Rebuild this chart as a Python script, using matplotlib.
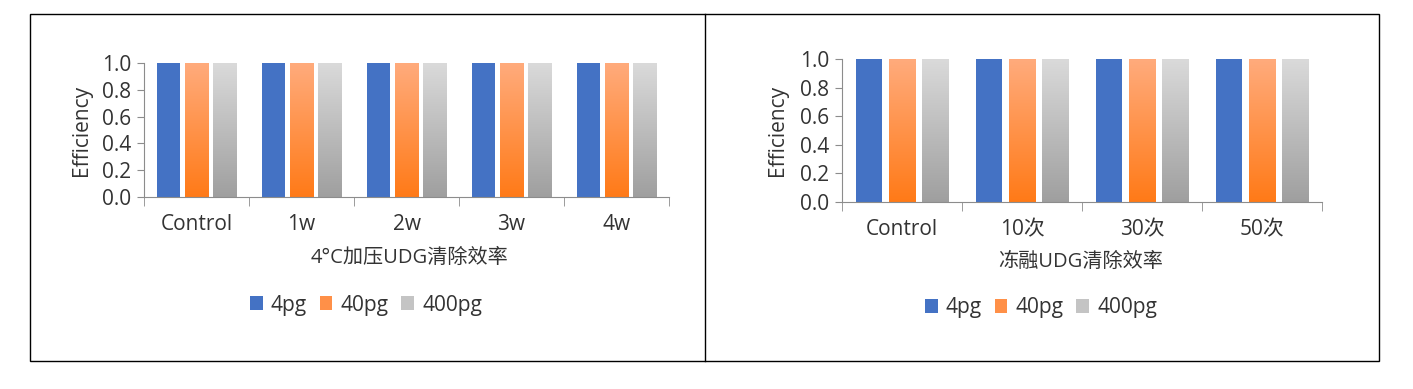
import matplotlib.pyplot as plt
import numpy as np
from matplotlib.colors import LinearSegmentedColormap
from matplotlib.patches import Rectangle
from matplotlib.lines import Line2D

plt.rcParams['font.family'] = ['Open Sans', 'Noto Sans CJK SC', 'DejaVu Sans']
plt.rcParams['font.size'] = 15

# 数据
series = ['4pg', '40pg', '400pg']

left_cats = ['Control', '1w', '2w', '3w', '4w']
left_4pg = [1.0, 1.0, 1.0, 1.0, 1.0]
left_40pg = [1.0, 1.0, 1.0, 1.0, 1.0]
left_400pg = [1.0, 1.0, 1.0, 1.0, 1.0]
left_title = '4°C加压UDG清除效率'

right_cats = ['Control', '10次', '30次', '50次']
right_4pg = [1.0, 1.0, 1.0, 1.0]
right_40pg = [1.0, 1.0, 1.0, 1.0]
right_400pg = [1.0, 1.0, 1.0, 1.0]
right_title = '冻融UDG清除效率'

# 颜色 (底部 -> 顶部)
blue = '#4472C4'
orange_cmap = LinearSegmentedColormap.from_list('org', ['#FF7A17', '#FFAB7C'])
gray_cmap = LinearSegmentedColormap.from_list('gry', ['#9F9F9F', '#DADADA'])
axis_color = '#8C8C8C'
text_color = '#333333'

W, H = 1413, 389
fig = plt.figure(figsize=(W / 100, H / 100), dpi=100)


def gradient_bars(ax, bars, cmap):
    grad = np.linspace(0, 1, 256).reshape(-1, 1)
    for b in bars:
        x, y = b.get_x(), b.get_y()
        w, h = b.get_width(), b.get_height()
        b.set_facecolor('none')
        ax.imshow(grad, extent=[x, x + w, y, y + h], origin='lower',
                  aspect='auto', cmap=cmap, zorder=2)


def draw_panel(rect, cats, v1, v2, v3, width, step, title, title_xy,
               ylab_x, leg_xy):
    ax = fig.add_axes(rect)
    x = np.arange(len(cats))
    ax.bar(x - step, v1, width, color=blue, zorder=2)
    b2 = ax.bar(x, v2, width, color='#FF9048', zorder=2)
    b3 = ax.bar(x + step, v3, width, color='#C8C8C8', zorder=2)
    gradient_bars(ax, b2, orange_cmap)
    gradient_bars(ax, b3, gray_cmap)

    ax.set_xlim(-0.5, len(cats) - 0.5)
    ax.set_ylim(0, 1.0)
    ax.set_yticks(np.arange(0, 1.01, 0.2))
    ax.set_yticklabels(['%.1f' % t for t in np.arange(0, 1.01, 0.2)])
    ax.set_xticks(x)
    ax.set_xticklabels(cats)
    ax.set_xticks(np.arange(len(cats) + 1) - 0.5, minor=True)
    ax.tick_params(axis='x', which='major', length=0, pad=12.5,
                   labelcolor=text_color)
    ax.tick_params(axis='x', which='minor', length=6.5, color=axis_color)
    ax.tick_params(axis='y', length=5, pad=4, color=axis_color,
                   labelcolor=text_color)

    for s in ['top', 'right']:
        ax.spines[s].set_visible(False)
    for s in ['left', 'bottom']:
        ax.spines[s].set_color(axis_color)

    ax.set_ylabel('Efficiency', color=text_color)
    ax.yaxis.set_label_coords(ylab_x, 0.5)
    fig.text(title_xy[0], title_xy[1], title, ha='center', va='center',
             color=text_color, fontsize=14.5)

    handles = [Rectangle((0, 0), 1, 1, fc=blue),
               Rectangle((0, 0), 1, 1, fc='#FF9048'),
               Rectangle((0, 0), 1, 1, fc='#C4C4C4')]
    ax.legend(handles, series, loc='center', bbox_to_anchor=leg_xy,
              bbox_transform=fig.transFigure, ncol=3, frameon=False,
              handlelength=0.62, handleheight=0.62, handletextpad=0.4,
              columnspacing=0.6, labelcolor=text_color)
    return ax


draw_panel([144 / W, 1 - 197 / H, 525 / W, 134 / H], left_cats,
           left_4pg, left_40pg, left_400pg, 0.225, 0.268, left_title,
           (410 / W, 1 - 258 / H), -0.099, (366 / W, 1 - 305 / H))

draw_panel([842 / W, 1 - 202 / H, 480 / W, 143 / H], right_cats,
           right_4pg, right_40pg, right_400pg, 0.217, 0.275, right_title,
           (1081 / W, 1 - 262 / H), -0.1125, (1041 / W, 1 - 308 / H))

# 外框和分隔线
fig.add_artist(Rectangle((30 / W, 1 - 361 / H), 1349 / W, 347 / H,
                         transform=fig.transFigure, fill=False,
                         ec='black', lw=1))
fig.add_artist(Line2D([705 / W, 705 / W], [1 - 361 / H, 1 - 14 / H],
                      transform=fig.transFigure, color='black', lw=1))

plt.savefig('out.png', dpi=100)
